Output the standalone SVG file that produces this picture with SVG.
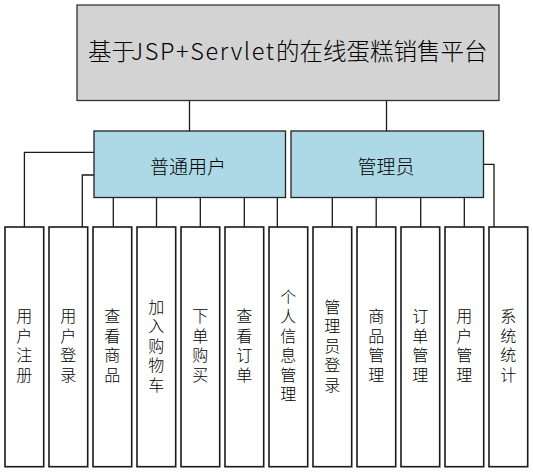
<svg xmlns="http://www.w3.org/2000/svg" width="533" height="473" viewBox="0 0 533 473">
<style>
text{font-family:"Noto Sans CJK SC","Microsoft YaHei",sans-serif;font-weight:300;fill:#000;text-anchor:middle;dominant-baseline:central}
.root rect{fill:#d3d3d3;stroke:#333;stroke-width:1.3}
.mid rect{fill:#add8e6;stroke:#222;stroke-width:1.3}
.leaf rect{fill:#fff;stroke:#1a1a1a;stroke-width:1.6}
.leaf text{font-size:16px;writing-mode:vertical-rl;letter-spacing:3.5px}
#connectors path{fill:none;stroke:#1a1a1a;stroke-width:1.3}
</style>
<rect width="533" height="473" fill="#fff"/>
<g id="connectors">
<path d="M189.5,100.5V131M386.5,100.5V131"/>
<path d="M94,152.3H24.4V227M94,175H82.3V227"/>
<path d="M113.3,197.7V227M156.5,197.7V227M200.3,197.7V227M244.3,197.7V227M277.3,197.7V227"/>
<path d="M332.3,197.7V227M376.2,197.7V227M420.7,197.7V227M464.3,197.7V227"/>
<path d="M483.5,164.3H494V227"/>
</g>
<g id="root" class="root">
<rect x="77" y="5" width="422" height="95.5"/>
<text y="50" style="font-size:23.5px;text-anchor:start"><tspan x="88">基于</tspan><tspan x="131" textLength="143" lengthAdjust="spacing">JSP+Servlet</tspan><tspan x="276">的在线蛋糕销售平台</tspan></text>
</g>
<g id="user" class="mid">
<rect x="94" y="131" width="191.5" height="66.5"/>
<text x="188" y="165" style="font-size:19px">普通用户</text>
</g>
<g id="admin" class="mid">
<rect x="291" y="131" width="192.5" height="66.5"/>
<text x="386" y="165" style="font-size:19px">管理员</text>
</g>
<g id="leaf1" class="leaf"><rect x="5" y="227" width="38.7" height="239.7"/><text x="24.35" y="347.2">用户注册</text></g>
<g id="leaf2" class="leaf"><rect x="49" y="227" width="38.7" height="239.7"/><text x="68.35" y="347.2">用户登录</text></g>
<g id="leaf3" class="leaf"><rect x="93" y="227" width="38.7" height="239.7"/><text x="112.35" y="347.2">查看商品</text></g>
<g id="leaf4" class="leaf"><rect x="137" y="227" width="38.7" height="239.7"/><text x="156.35" y="347.2">加入购物车</text></g>
<g id="leaf5" class="leaf"><rect x="181" y="227" width="38.7" height="239.7"/><text x="200.35" y="347.2">下单购买</text></g>
<g id="leaf6" class="leaf"><rect x="225" y="227" width="38.7" height="239.7"/><text x="244.35" y="347.2">查看订单</text></g>
<g id="leaf7" class="leaf"><rect x="269" y="227" width="38.7" height="239.7"/><text x="288.35" y="347.2">个人信息管理</text></g>
<g id="leaf8" class="leaf"><rect x="313" y="227" width="38.7" height="239.7"/><text x="332.35" y="347.2">管理员登录</text></g>
<g id="leaf9" class="leaf"><rect x="357" y="227" width="38.7" height="239.7"/><text x="376.35" y="347.2">商品管理</text></g>
<g id="leaf10" class="leaf"><rect x="401" y="227" width="38.7" height="239.7"/><text x="420.35" y="347.2">订单管理</text></g>
<g id="leaf11" class="leaf"><rect x="445" y="227" width="38.7" height="239.7"/><text x="464.35" y="347.2">用户管理</text></g>
<g id="leaf12" class="leaf"><rect x="489" y="227" width="38.7" height="239.7"/><text x="508.35" y="347.2">系统统计</text></g>
</svg>
